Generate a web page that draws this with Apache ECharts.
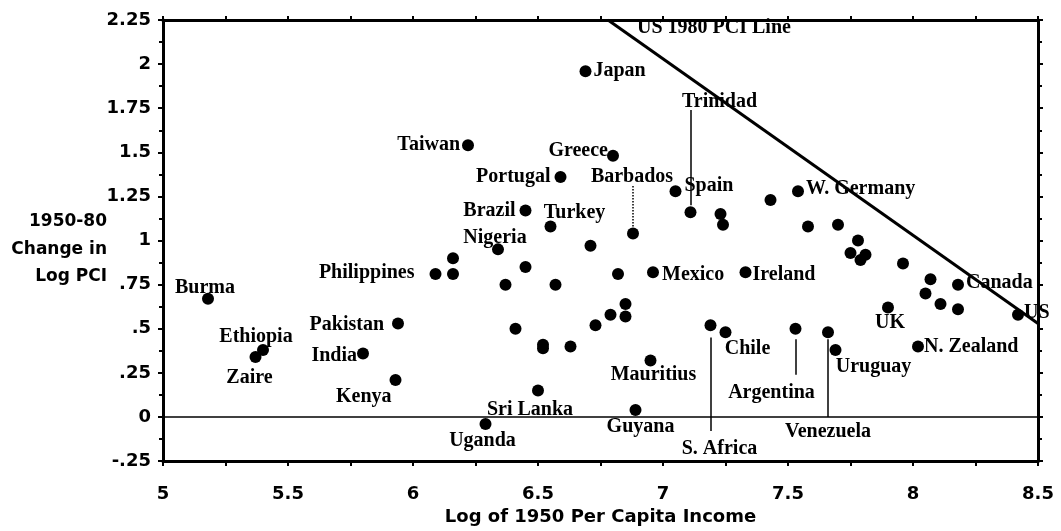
<!DOCTYPE html>
<html>
<head>
<meta charset="utf-8">
<script src="https://cdn.jsdelivr.net/npm/echarts@6/dist/echarts.min.js"></script>
<style>html,body{margin:0;padding:0;background:#fff}#c{width:1061px;height:531px}</style>
</head>
<body>
<div id="c"></div>
<script>
// ---- data ----
const countries = ['Burma','Ethiopia','Zaire','India','Pakistan','Kenya','Philippines','Nigeria','Taiwan','Brazil','Turkey','Portugal','Greece','Japan','Spain','W. Germany','Mexico','Ireland','Canada','US','UK','N. Zealand','Uruguay','Chile','Mauritius','Guyana','Sri Lanka','Uganda'];
const logPCI1950 = [5.18,5.40,5.37,5.80,5.94,5.93,6.09,6.34,6.22,6.45,6.55,6.59,6.80,6.69,7.05,7.54,6.96,7.33,8.18,8.42,7.90,8.02,7.69,7.25,6.95,6.89,6.50,6.29];
const change5080 = [0.67,0.38,0.34,0.36,0.53,0.21,0.81,0.95,1.54,1.17,1.08,1.36,1.48,1.96,1.28,1.28,0.82,0.82,0.75,0.58,0.62,0.40,0.38,0.48,0.32,0.04,0.15,-0.04];

const leaderCountries = ['Trinidad','Barbados','S. Africa','Argentina','Venezuela'];
const leaderX = [7.11,6.88,7.19,7.53,7.66];
const leaderY = [1.16,1.04,0.52,0.50,0.48];
const leaderStart = [1.20,1.08,0.45,0.44,0.44];
const leaderEnd = [1.74,1.31,-0.08,0.24,0.00];

const otherX = [6.16,6.16,6.45,6.37,6.57,6.82,6.41,6.52,6.52,6.63,6.73,6.79,6.85,6.85,6.71,7.23,7.24,7.43,7.58,7.70,7.78,7.75,7.79,7.81,7.96,8.07,8.05,8.11,8.18];
const otherY = [0.81,0.90,0.85,0.75,0.75,0.81,0.50,0.41,0.39,0.40,0.52,0.58,0.64,0.57,0.97,1.15,1.09,1.23,1.08,1.09,1.00,0.93,0.89,0.92,0.87,0.78,0.70,0.64,0.61];

const usLineX = [6.78, 8.5];
const usLineY = [2.25, 0.53];
const usLineLabel = 'US 1980 PCI Line';

const xTicks = [5,5.5,6,6.5,7,7.5,8,8.5];
const yTickLabels = ['-.25','0','.25','.5','.75','1','1.25','1.5','1.75','2','2.25'];
const yTitleLines = ['1950-80','Change in','Log PCI'];

// ---- label placement (style) ----
const labelPlace = {
  'Burma':['top',[-3,5]], 'Ethiopia':['top',[-7,3]], 'Zaire':['bottom',[-6,5]],
  'India':['left',[0,2]], 'Pakistan':['left',[-8,1]], 'Kenya':['left',[2,17]],
  'Philippines':['left',[-15,-1]], 'Nigeria':['top',[-3,4]], 'Taiwan':['left',[-2,0]],
  'Brazil':['left',[-4,0]], 'Turkey':['top',[24,2]], 'Portugal':['left',[-4,0]],
  'Greece':['left',[1,-5]], 'Japan':['right',[2,0]], 'Spain':['right',[3,-5]],
  'W. Germany':['right',[2,-2]], 'Mexico':['right',[3,3]], 'Ireland':['right',[1,3]],
  'Canada':['right',[2,-2]], 'US':['right',[0,-2]], 'UK':['bottom',[2,-1]],
  'N. Zealand':['right',[0,0]], 'Uruguay':['bottom',[38,1]], 'Chile':['bottom',[22,1]],
  'Mauritius':['bottom',[3,-2]], 'Guyana':['bottom',[5,1]], 'Sri Lanka':['bottom',[-8,3]],
  'Uganda':['bottom',[-3,1]]
};
const leaderLabelPlace = [['top',[29,2]],['top',[-1,1]],['bottom',[9,8]],['bottom',[-24,8]],['bottom',[0,5]]];
const leaderDash = ['solid','dotted','solid','solid','solid'];

const serif = '"Liberation Serif", "Times New Roman", serif';
const sans = '"DejaVu Sans", "Liberation Sans", Arial, sans-serif';
const labelStyle = {fontFamily: serif, fontSize: 20, fontWeight: 'bold', color: '#000'};

const mainData = countries.map((n,i)=>({
  name:n, value:[logPCI1950[i], change5080[i]],
  label:Object.assign({show:true, formatter:'{b}', position:labelPlace[n][0], offset:labelPlace[n][1], distance:0}, labelStyle)
}));
const leaderDotData = leaderCountries.map((n,i)=>[leaderX[i], leaderY[i]]);
const leaderLabelData = leaderCountries.map((n,i)=>({
  name:n, value:[leaderX[i], leaderEnd[i]],
  label:Object.assign({show:true, formatter:'{b}', position:leaderLabelPlace[i][0], offset:leaderLabelPlace[i][1], distance:0}, labelStyle)
}));
const otherData = otherX.map((x,i)=>[x, otherY[i]]);

const leaderLines = leaderCountries.map((n,i)=>[
  {coord:[leaderX[i], leaderStart[i]], lineStyle:{type:leaderDash[i], width:1.5, color:'#000'}},
  {coord:[leaderX[i], leaderEnd[i]]}
]);

const dot = {color:'#000', opacity:1};
const chart = echarts.init(document.getElementById('c'), null, {renderer:'canvas'});
const axisLine = {show:true, onZero:false, lineStyle:{color:'#000', width:3}};
const tickStyle = {color:'#000', width:2};
chart.setOption({
  animation:false,
  backgroundColor:'#fff',
  grid:{left:163, right:23, top:20, bottom:63},
  xAxis:[{
    type:'value', min:5, max:8.5, interval:0.5,
    axisLine:axisLine, splitLine:{show:false},
    axisTick:{show:true, inside:false, length:5, lineStyle:tickStyle},
    minorTick:{show:true, splitNumber:2, length:5, lineStyle:tickStyle},
    axisLabel:{color:'#000', fontFamily:sans, fontSize:18, fontWeight:'bold', margin:24,
      formatter:v=>{const s=xTicks.find(t=>Math.abs(t-v)<1e-6); return s===undefined?'':String(s);}},
    name:'Log of 1950 Per Capita Income', nameLocation:'middle', nameGap:46,
    nameTextStyle:{color:'#000', fontFamily:sans, fontSize:18, fontWeight:'bold'}
  },{
    type:'value', min:5, max:8.5, interval:0.5, position:'top',
    axisLine:axisLine, splitLine:{show:false}, axisLabel:{show:false},
    axisTick:{show:true, inside:false, length:4, lineStyle:tickStyle},
    minorTick:{show:true, splitNumber:2, length:4, lineStyle:tickStyle}
  }],
  yAxis:[{
    type:'value', min:-0.25, max:2.25, interval:0.25,
    axisLine:axisLine, splitLine:{show:false},
    axisTick:{show:true, inside:false, length:5, lineStyle:tickStyle},
    minorTick:{show:true, splitNumber:2, length:4, lineStyle:tickStyle},
    axisLabel:{color:'#000', fontFamily:sans, fontSize:18, fontWeight:'bold', margin:12,
      formatter:v=>{const idx=Math.round((v+0.25)/0.25); return yTickLabels[idx]||'';}}
  },{
    type:'value', min:-0.25, max:2.25, interval:0.25, position:'right',
    axisLine:axisLine, splitLine:{show:false}, axisLabel:{show:false},
    axisTick:{show:true, inside:false, length:5, lineStyle:tickStyle},
    minorTick:{show:true, splitNumber:2, length:4, lineStyle:tickStyle}
  }],
  graphic: yTitleLines.map((t,i)=>({
    type:'text', x:107, y:222 + i*27.5,
    style:{text:t, font:'bold 17px '+sans, fill:'#000', align:'right', verticalAlign:'middle'}
  })),
  series:[
    {
      type:'scatter', symbol:'circle', symbolSize:12, itemStyle:dot,
      data:mainData, z:5,
      markLine:{
        silent:true, symbol:'none', animation:false,
        lineStyle:{color:'#000', width:1.5, type:'solid'},
        label:{show:false},
        data:[[{coord:[5,0]},{coord:[8.5,0]}]].concat(leaderLines)
      }
    },
    {type:'scatter', symbol:'circle', symbolSize:12, itemStyle:dot, data:leaderDotData, z:5},
    {type:'scatter', symbolSize:0, silent:true, itemStyle:dot, data:leaderLabelData, z:6},
    {type:'scatter', symbol:'circle', symbolSize:12, itemStyle:dot, data:otherData, z:5},
    {
      type:'line', symbol:'none', lineStyle:{color:'#000', width:3},
      data:usLineX.map((x,i)=>[x,usLineY[i]]), z:4
    },
    {
      type:'scatter', symbolSize:0, silent:true, itemStyle:dot,
      data:[{name:usLineLabel, value:[usLineX[0], usLineY[0]]}],
      label:Object.assign({show:true, position:'right', formatter:'{b}', offset:[29,8], distance:0}, labelStyle, {fontSize:20})
    }
  ]
});
</script>
</body>
</html>
